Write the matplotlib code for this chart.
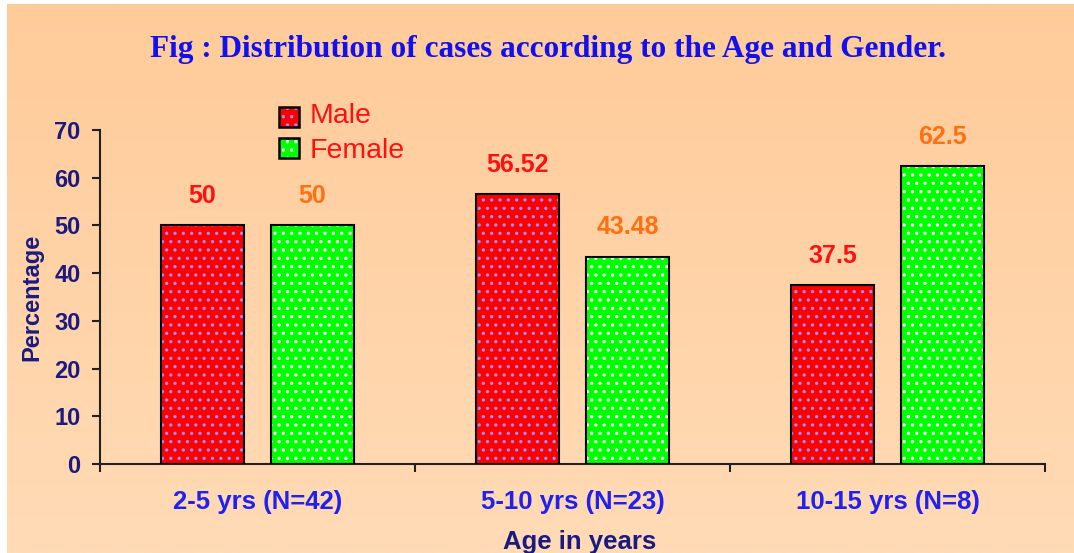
import numpy as np
import matplotlib
matplotlib.use("Agg")
import matplotlib.pyplot as plt
from matplotlib.patches import Rectangle

categories = ["2-5 yrs (N=42)", "5-10 yrs (N=23)", "10-15 yrs (N=8)"]
male = [50, 56.52, 37.5]
female = [50, 43.48, 62.5]
male_labels = ["50", "56.52", "37.5"]
female_labels = ["50", "43.48", "62.5"]
yticks = [0, 10, 20, 30, 40, 50, 60, 70]
series_names = ["Male", "Female"]

W, H = 1074, 553
fig = plt.figure(figsize=(W / 100, H / 100), dpi=100)
fig.patch.set_facecolor("white")


def fx(px):
    return px / W


def fy(py):
    return 1 - py / H


# gradient background
bg = fig.add_axes([7 / W, 0, 1 - 7 / W, 1 - 4 / H])
bg.set_axis_off()
top = np.array([255, 203, 153]) / 255
bot = np.array([255, 219, 182]) / 255
t = np.linspace(0, 1, 256)[:, None]
grad = top[None, :] * (1 - t) + bot[None, :] * t
bg.imshow(grad[:, None, :], aspect="auto", extent=[0, 1, 0, 1])
bg.set_zorder(-5)

ax = fig.add_axes([100 / W, 1 - 464 / H, 945 / W, 334 / H])
ax.set_facecolor("none")

plt.rcParams["hatch.linewidth"] = 1.2
x = np.arange(len(categories))
bw = 0.265
off = 0.175
red, green = "#FF0000", "#00FF00"
red_dot, green_dot = "#9C8CFF", "white"
# fills with dotted hatch
ax.bar(x - off, male, bw, color=red, edgecolor=red_dot, hatch="..", linewidth=0, zorder=2)
ax.bar(x + off, female, bw, color=green, edgecolor=green_dot, hatch="..", linewidth=0, zorder=2)
# outlines
ax.bar(x - off, male, bw, facecolor="none", edgecolor="black", linewidth=1.5, zorder=3)
ax.bar(x + off, female, bw, facecolor="none", edgecolor="black", linewidth=1.5, zorder=3)

for xi, v, s in zip(x - off, male, male_labels):
    ax.annotate(s, (xi, v), xytext=(0, 21), textcoords="offset points", ha="center", va="center",
                color="#FF1010", fontsize=18, fontweight="bold", family="Liberation Sans")
for xi, v, s in zip(x + off, female, female_labels):
    ax.annotate(s, (xi, v), xytext=(0, 21), textcoords="offset points", ha="center", va="center",
                color="#FF7010", fontsize=18, fontweight="bold", family="Liberation Sans")

ax.set_xlim(-0.5, 2.5)
ax.set_ylim(0, 70)
ax.set_yticks(yticks)
ax.set_yticklabels([str(v) for v in yticks], fontsize=17, fontweight="bold",
                   color="#1A1A80", family="Liberation Sans")
ax.set_xticks(x)
ax.set_xticklabels(categories, fontsize=18.5, fontweight="bold", color="#2020F0",
                   family="Liberation Sans")
ax.set_xticks([-0.5, 0.5, 1.5, 2.5], minor=True)
ax.tick_params(axis="x", which="major", length=0, pad=18.5)
ax.tick_params(axis="x", which="minor", length=6, width=1.5, direction="out", color="#202020")
ax.tick_params(axis="y", length=6, width=1.5, direction="out", color="#202020", pad=8)
for sp in ["top", "right"]:
    ax.spines[sp].set_visible(False)
for sp in ["left", "bottom"]:
    ax.spines[sp].set_linewidth(1.5)
    ax.spines[sp].set_color("#202020")

fig.text(fx(548), fy(49), "Fig : Distribution of cases according to the Age and Gender.",
         ha="center", va="center", fontsize=22.5, fontweight="bold", color="#1010F0",
         family="Liberation Serif")
fig.text(fx(32), fy(297), "Percentage", rotation=90, ha="center", va="center",
         fontsize=17, fontweight="bold", color="#1A1A80", family="Liberation Sans")
fig.text(fx(580), fy(542), "Age in years", ha="center", va="center",
         fontsize=18.5, fontweight="bold", color="#1A1A80", family="Liberation Sans")

# legend (manual)
legend_items = [(series_names[0], red, red_dot, 107, 123), (series_names[1], green, green_dot, 138, 158)]
for name, fc, dc, sq_top, baseline in legend_items:
    fig.add_artist(Rectangle((fx(279), fy(sq_top + 20)), 20 / W, 20 / H, transform=fig.transFigure,
                             facecolor=fc, edgecolor=dc, hatch="..", linewidth=0))
    fig.add_artist(Rectangle((fx(279), fy(sq_top + 20)), 20 / W, 20 / H, transform=fig.transFigure,
                             facecolor="none", edgecolor="black", linewidth=1.8))
    fig.text(fx(310), fy(baseline), name, ha="left", va="baseline", fontsize=20.5,
             color="#FF1010", family="Liberation Sans")

fig.savefig("out.png", dpi=100)
